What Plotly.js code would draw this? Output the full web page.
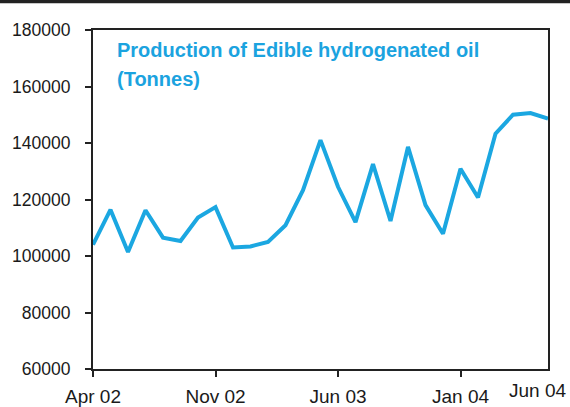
<!DOCTYPE html>
<html>
<head>
<meta charset="utf-8">
<script src="https://cdn.plot.ly/plotly-3.0.1.min.js"></script>
<style>
  html, body { margin: 0; padding: 0; background: #fff; }
  #chart { width: 570px; height: 407px; }
</style>
</head>
<body>
<div id="chart"></div>
<script>
// Months (Apr 2002 – Jun 2004)
const months = [
  "Apr 02","May 02","Jun 02","Jul 02","Aug 02","Sep 02","Oct 02","Nov 02","Dec 02",
  "Jan 03","Feb 03","Mar 03","Apr 03","May 03","Jun 03","Jul 03","Aug 03","Sep 03",
  "Oct 03","Nov 03","Dec 03","Jan 04","Feb 04","Mar 04","Apr 04","May 04","Jun 04"
];
// Production of edible hydrogenated oil (tonnes)
const production = [
  104000, 116400, 101400, 116200, 106500, 105300, 113600, 117300, 103000,
  103400, 105000, 110900, 123300, 141000, 124500, 112000, 132500, 112400,
  138600, 118000, 107900, 130900, 120700, 143300, 150000, 150600, 148600
];
const tickMonths = ["Apr 02", "Nov 02", "Jun 03", "Jan 04"];
const lastLabel = "Jun 04";
const yTicks = [60000, 80000, 100000, 120000, 140000, 160000, 180000];
const titleLines = ["Production of Edible hydrogenated oil", "(Tonnes)"];

const tickIdx = tickMonths.map(m => months.indexOf(m));

const trace = {
  x: months.map((m, i) => i),
  y: production,
  type: "scatter",
  mode: "lines",
  line: { color: "#1ba7e1", width: 4 },
  hoverinfo: "skip"
};

const fam = "Liberation Sans, Arial, sans-serif";
const xFont = { family: fam, size: 19, color: "#1a1a1a" };
const yFont = { family: fam, size: 17.5, color: "#1a1a1a" };

const layout = {
  width: 570,
  height: 407,
  margin: { l: 93, r: 22, t: 30, b: 38 },
  paper_bgcolor: "#ffffff",
  plot_bgcolor: "#ffffff",
  showlegend: false,
  xaxis: {
    range: [0, months.length - 1],
    tickmode: "array",
    tickvals: tickIdx,
    ticktext: tickMonths,
    ticks: "outside",
    ticklen: 6,
    tickwidth: 2,
    tickcolor: "#222",
    showline: true,
    linecolor: "#222",
    linewidth: 2,
    mirror: true,
    showgrid: false,
    zeroline: false,
    tickfont: xFont,
    ticklabelstandoff: 3
  },
  yaxis: {
    range: [60000, 180000],
    tickmode: "array",
    tickvals: yTicks,
    ticktext: yTicks.map(String),
    ticks: "outside",
    ticklen: 6,
    tickwidth: 2,
    tickcolor: "#222",
    showline: true,
    linecolor: "#222",
    linewidth: 2,
    mirror: true,
    showgrid: false,
    zeroline: false,
    tickfont: yFont,
    ticklabelstandoff: 11
  },
  annotations: [
    {
      text: "<b>" + titleLines[0] + "</b>",
      xref: "paper", yref: "paper",
      x: 0.048, y: 0.94, xanchor: "left", yanchor: "middle",
      showarrow: false,
      font: { family: fam, size: 20, color: "#1ba3df" }
    },
    {
      text: "<b>" + titleLines[1] + "</b>",
      xref: "paper", yref: "paper",
      x: 0.048, y: 0.855, xanchor: "left", yanchor: "middle",
      showarrow: false,
      font: { family: fam, size: 20, color: "#1ba3df" }
    },
    {
      text: lastLabel,
      xref: "x", yref: "paper",
      x: months.length - 1, y: -0.062, xanchor: "center", yanchor: "middle",
      xshift: -11,
      showarrow: false,
      font: xFont
    }
  ],
  shapes: [
    {
      type: "rect", xref: "paper", yref: "paper",
      x0: -0.3, x1: 1.1, y0: 1.079, y1: 1.2,
      fillcolor: "#222", line: { width: 0 }, layer: "above"
    }
  ]
};

Plotly.newPlot("chart", [trace], layout, { staticPlot: true, displayModeBar: false });
</script>
</body>
</html>
